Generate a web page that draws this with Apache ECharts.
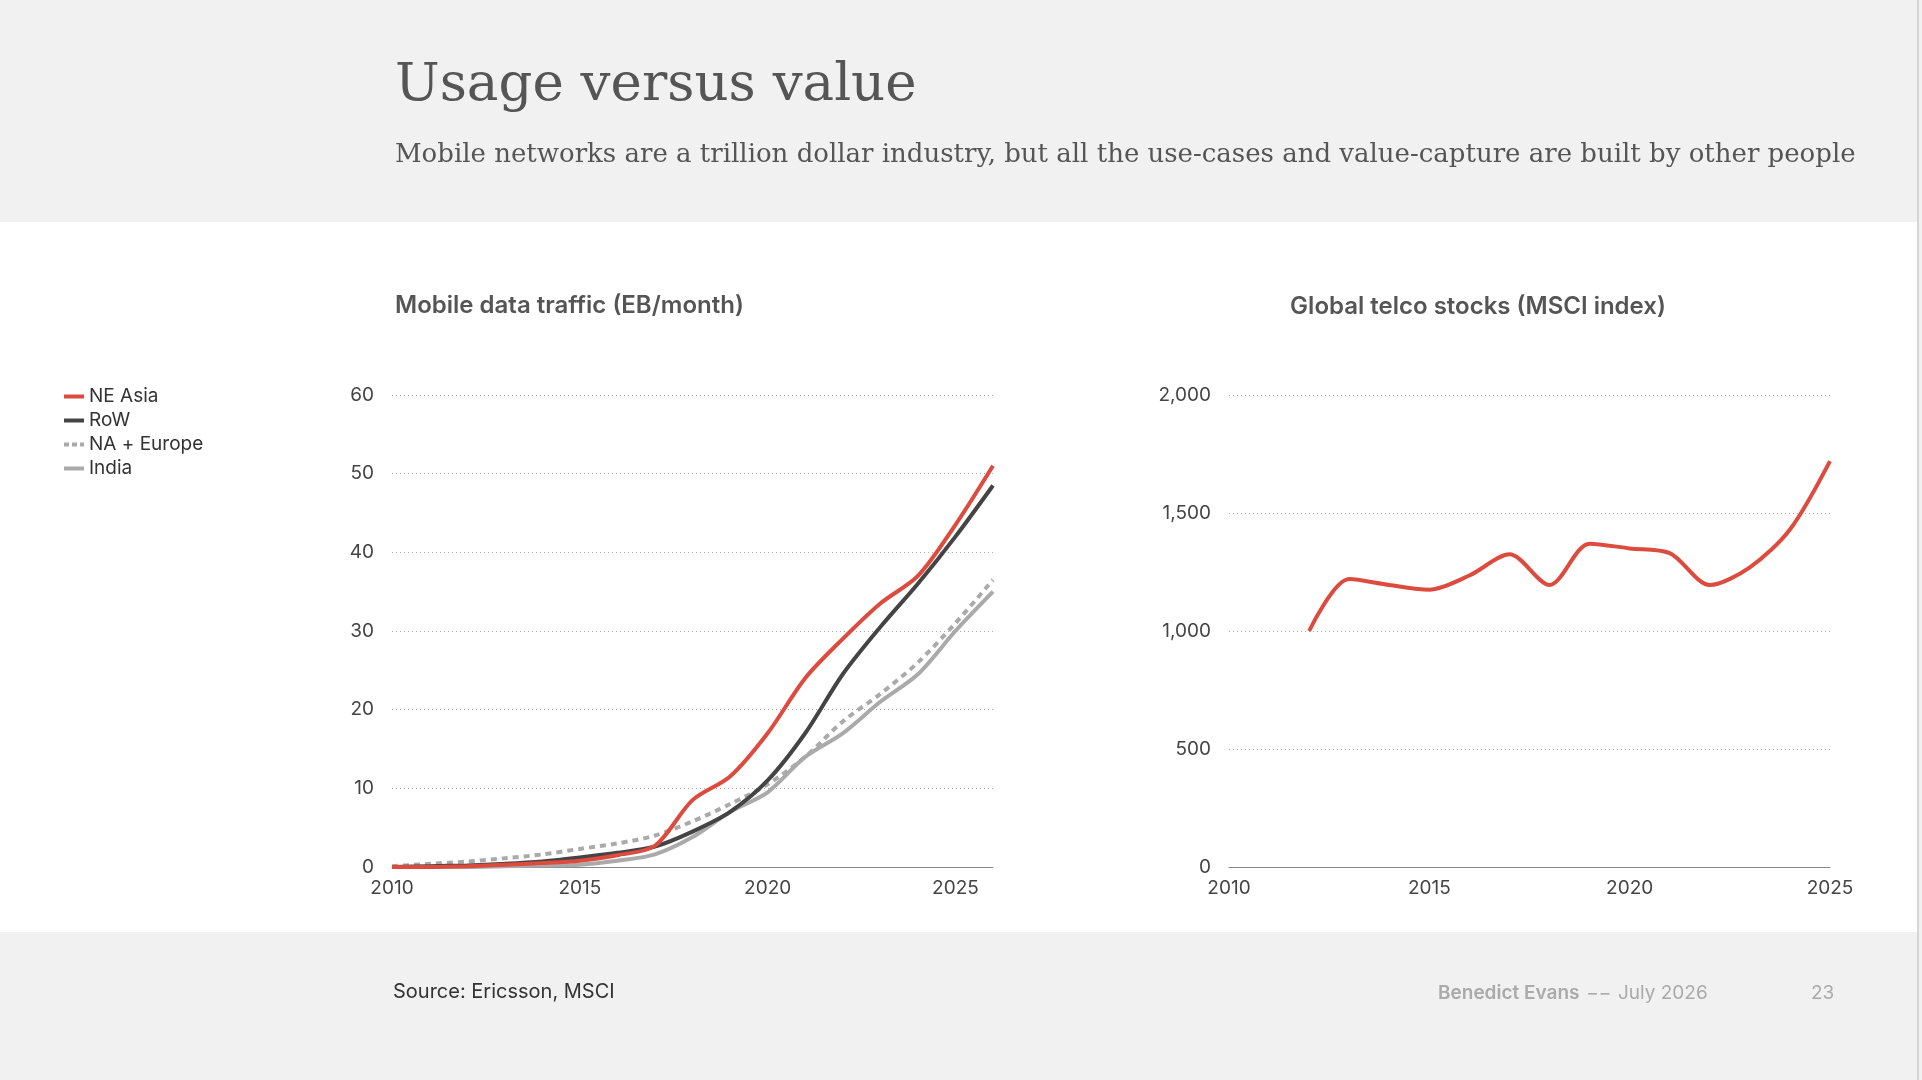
<!DOCTYPE html>
<html><head><meta charset="utf-8">
<script src="https://cdn.jsdelivr.net/npm/echarts@6/dist/echarts.min.js"></script>
<style>html,body{margin:0;padding:0;background:#f1f1f1}#c{width:1922px;height:1080px}</style>
</head><body><div id="c"></div>
<script>
// 左图：移动数据流量
var years = [2010,2011,2012,2013,2014,2015,2016,2017,2018,2019,2020,2021,2022,2023,2024,2025,2026];
var neAsia = [0,0,0.1,0.3,0.5,0.8,1.5,2.7,8.5,11.5,17,24,29,33.5,37,43.5,51];
var row = [0,0.1,0.2,0.4,0.7,1.2,1.8,2.6,4.5,7,11,17,24.5,30.5,36,42,48.5];
var naEurope = [0.1,0.4,0.7,1.1,1.6,2.3,3.0,4.0,5.8,8,10.5,14,18.5,22,26,31,36.5];
var india = [0,0,0,0.1,0.2,0.3,0.8,1.6,3.8,7,9.5,14,17,21,24.5,30,35];
// 右图：电信股指数
var telcoYears = [2012,2013,2014,2015,2016,2017,2018,2019,2020,2021,2022,2023,2024,2025];
var telco = [1000,1220,1195,1175,1235,1325,1195,1370,1350,1330,1195,1270,1430,1720];

var font = 'Inter, "Noto Sans", sans-serif';
function pairs(xs, ys) { return xs.map(function (x, i) { return [x, ys[i]]; }); }

var axisX = function (idx, min, max) {
  return {
    type: 'value', gridIndex: idx, min: min, max: max, interval: 5,
    axisLine: {lineStyle: {color: '#888', width: 1}}, axisTick: {show: false},
    splitLine: {show: false},
    axisLabel: {color: '#444', fontSize: 19, fontFamily: font, margin: 12,
      showMaxLabel: max % 5 === 0,
      formatter: function (v) { return String(v); }}
  };
};
var axisY = function (idx, max, interval, fmt) {
  return {
    type: 'value', gridIndex: idx, min: 0, max: max, interval: interval,
    axisLine: {show: false}, axisTick: {show: false},
    splitLine: {lineStyle: {color: '#aaa', type: [1, 3], width: 1}},
    axisLabel: {color: '#444', fontSize: 19, fontFamily: font, margin: 18, formatter: fmt}
  };
};
var lineStyle = function (color, type) {
  return {color: color, width: 4, type: type || 'solid'};
};

var chart = echarts.init(document.getElementById('c'));
chart.setOption({
  backgroundColor: '#f1f1f1',
  animation: false,
  graphic: [
    {type: 'rect', shape: {x: 0, y: 222, width: 1918, height: 710}, style: {fill: '#fff'}},
    {type: 'rect', shape: {x: 1917, y: 0, width: 2, height: 1080}, style: {fill: '#d5d5d5'}},
    {type: 'text', left: 395, top: 60, style: {text: 'Usage versus value', fill: '#555',
      font: '53px "DejaVu Serif", serif'}},
    {type: 'text', left: 395, top: 142, style: {text: 'Mobile networks are a trillion dollar industry, but all the use-cases and value-capture are built by other people',
      fill: '#555', font: '26px "DejaVu Serif", serif'}},
    {type: 'text', left: 395, top: 294, style: {text: 'Mobile data traffic (EB/month)', fill: '#555',
      font: '600 24px ' + font}},
    {type: 'text', x: 1478, y: 307, style: {text: 'Global telco stocks (MSCI index)', fill: '#555',
      font: '600 24px ' + font, align: 'center', verticalAlign: 'middle'}},
    {type: 'text', left: 393, top: 982, style: {text: 'Source: Ericsson, MSCI', fill: '#333',
      font: '20px ' + font}},
    {type: 'text', left: 1438, top: 984, style: {text: '{b|Benedict Evans}  {d|−−}  {d|July 2026}',
      rich: {b: {fill: '#aaa', font: '600 19px ' + font}, d: {fill: '#aaa', font: '19px ' + font}}}},
    {type: 'text', left: 1811, top: 984, style: {text: '23', fill: '#aaa', font: '19px ' + font}}
  ],
  legend: {
    left: 59, top: 382, orient: 'vertical', itemGap: 5, itemWidth: 20, itemHeight: 4,
    textStyle: {color: '#333', fontSize: 19, fontFamily: font},
    data: [
      {name: 'NE Asia', icon: 'rect'},
      {name: 'RoW', icon: 'rect'},
      {name: 'NA + Europe', icon: 'path://M0,0h5v4h-5zM8,0h5v4h-5zM16,0h4v4h-4z'},
      {name: 'India', icon: 'rect'}
    ]
  },
  grid: [
    {left: 392, top: 395, width: 601, height: 472},
    {left: 1229, top: 395, width: 601, height: 472}
  ],
  xAxis: [axisX(0, 2010, 2026), axisX(1, 2010, 2025)],
  yAxis: [
    axisY(0, 60, 10),
    axisY(1, 2000, 500, function (v) { return v.toLocaleString('en-US'); })
  ],
  series: [
    {name: 'NA + Europe', type: 'line', smooth: 0.3, showSymbol: false, xAxisIndex: 0, yAxisIndex: 0,
      data: pairs(years, naEurope), lineStyle: lineStyle('#aaa', [6, 5]), itemStyle: {color: '#aaa'}, z: 1},
    {name: 'India', type: 'line', smooth: 0.3, showSymbol: false, xAxisIndex: 0, yAxisIndex: 0,
      data: pairs(years, india), lineStyle: lineStyle('#aaa'), itemStyle: {color: '#aaa'}, z: 2},
    {name: 'RoW', type: 'line', smooth: 0.3, showSymbol: false, xAxisIndex: 0, yAxisIndex: 0,
      data: pairs(years, row), lineStyle: lineStyle('#444'), itemStyle: {color: '#444'}, z: 3},
    {name: 'NE Asia', type: 'line', smooth: 0.3, showSymbol: false, xAxisIndex: 0, yAxisIndex: 0,
      data: pairs(years, neAsia), lineStyle: lineStyle('#dd4b3e'), itemStyle: {color: '#dd4b3e'}, z: 4},
    {name: 'MSCI', type: 'line', smooth: 0.3, showSymbol: false, xAxisIndex: 1, yAxisIndex: 1,
      data: pairs(telcoYears, telco), lineStyle: lineStyle('#dd4b3e'), itemStyle: {color: '#dd4b3e'}}
  ]
});
</script>
</body></html>
